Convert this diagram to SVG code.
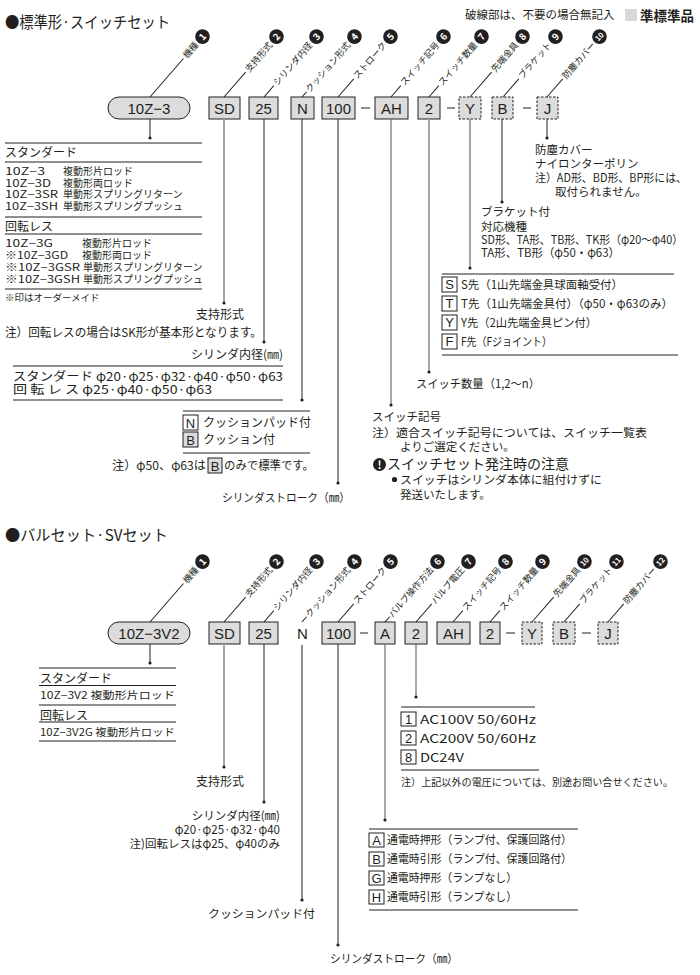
<svg xmlns="http://www.w3.org/2000/svg" width="700" height="975" viewBox="0 0 700 975">
<style>
text{font-family:"Noto Sans CJK JP","Noto Sans",sans-serif;fill:#231f20}
.ttl{font-size:15.5px}
.t{font-size:11.5px}
.h{font-size:12px}
.s{font-size:10px}
.box{fill:#dcdcdc;stroke:#231f20;stroke-width:1}
.dbox{fill:#dcdcdc;stroke:#231f20;stroke-width:1;stroke-dasharray:2.5 1.5}
.wbox{fill:#fff;stroke:#231f20;stroke-width:1}
.bt{font-family:"Liberation Sans","Noto Sans",sans-serif;font-size:15px;text-anchor:middle}
.kt{font-family:"Liberation Sans","Noto Sans",sans-serif;font-size:13px;text-anchor:middle}
.ln{stroke:#231f20;stroke-width:1;fill:none}
.gl{stroke:#a5a5a5;stroke-width:2;fill:none}
.ml{stroke:#6e6e6e;stroke-width:1.2;fill:none}
.rule{stroke:#231f20;stroke-width:1}
.dot{fill:#231f20}
.lbl{font-size:9px;text-anchor:end}
.cir{fill:#231f20}
.num{font-size:9.5px;font-weight:bold;fill:#fff;text-anchor:middle}
.num2{font-size:7.5px;font-weight:bold;fill:#fff;text-anchor:middle}
</style>

<!-- legend -->
<g id="legend">
<text x="465" y="19" style="font-size:11.5px">破線部は、不要の場合無記入</text>
<rect x="625" y="9" width="12" height="12" fill="#d9d9d9"/>
<text x="640" y="21" style="font-size:13.5px;font-weight:bold">準標準品</text>
</g>

<!-- ===== TOP SECTION ===== -->
<text id="title1" x="5" y="28" class="ttl" textLength="165" lengthAdjust="spacingAndGlyphs">●標準形·スイッチセット</text>

<g id="top-boxes">
<g id="t-model"><rect x="108" y="97" width="82" height="22" rx="11" class="box"/><text x="149" y="114" class="bt">10Z−3</text></g>
<g id="t-sd"><rect x="209" y="97" width="31" height="22" class="box"/><text x="224.5" y="114" class="bt">SD</text></g>
<g id="t-25"><rect x="249" y="97" width="29" height="22" class="box"/><text x="263.5" y="114" class="bt">25</text></g>
<g id="t-n"><rect x="291" y="97" width="23" height="22" class="box"/><text x="302.5" y="114" class="bt">N</text></g>
<g id="t-100"><rect x="322" y="97" width="33" height="22" class="box"/><text x="338.5" y="114" class="bt">100</text></g>
<g id="t-ah"><rect x="375" y="97" width="33" height="22" class="box"/><text x="391.5" y="114" class="bt">AH</text></g>
<g id="t-2"><rect x="418" y="97" width="22" height="22" class="box"/><text x="429" y="114" class="bt">2</text></g>
<g id="t-y"><rect x="459" y="97" width="22" height="22" class="dbox"/><text x="470" y="114" class="bt">Y</text></g>
<g id="t-b"><rect x="492" y="97" width="21" height="22" class="dbox"/><text x="502.5" y="114" class="bt">B</text></g>
<g id="t-j"><rect x="537" y="97" width="21" height="22" class="dbox"/><text x="547.5" y="114" class="bt">J</text></g>
</g>

<g id="top-labels">
<g id="tl1" transform="translate(150,97) rotate(-49)"><line x1="0" y1="0" x2="51" y2="0" class="ln"/><text x="71" y="3.2" class="lbl">機種</text><circle cx="80" cy="0" r="7.3" class="cir"/><text x="80" y="3.4" class="num">1</text></g>
<g id="tl2" transform="translate(224,97) rotate(-49)"><line x1="0" y1="0" x2="33" y2="0" class="ln"/><text x="71" y="3.2" class="lbl">支持形式</text><circle cx="80" cy="0" r="7.3" class="cir"/><text x="80" y="3.4" class="num">2</text></g>
<g id="tl3" transform="translate(264,97) rotate(-49)"><line x1="0" y1="0" x2="15" y2="0" class="ln"/><text x="71" y="3.2" class="lbl">シリンダ内径</text><circle cx="80" cy="0" r="7.3" class="cir"/><text x="80" y="3.4" class="num">3</text></g>
<g id="tl4" transform="translate(302,97) rotate(-49)"><line x1="0" y1="0" x2="7" y2="0" class="ln"/><text x="71" y="3.2" class="lbl">クッション形式</text><circle cx="80" cy="0" r="7.3" class="cir"/><text x="80" y="3.4" class="num">4</text></g>
<g id="tl5" transform="translate(338,97) rotate(-49)"><line x1="0" y1="0" x2="24" y2="0" class="ln"/><text x="71" y="3.2" class="lbl">ストローク</text><circle cx="80" cy="0" r="7.3" class="cir"/><text x="80" y="3.4" class="num">5</text></g>
<g id="tl6" transform="translate(391,97) rotate(-49)"><line x1="0" y1="0" x2="15" y2="0" class="ln"/><text x="71" y="3.2" class="lbl">スイッチ記号</text><circle cx="80" cy="0" r="7.3" class="cir"/><text x="80" y="3.4" class="num">6</text></g>
<g id="tl7" transform="translate(429,97) rotate(-49)"><line x1="0" y1="0" x2="15" y2="0" class="ln"/><text x="71" y="3.2" class="lbl">スイッチ数量</text><circle cx="80" cy="0" r="7.3" class="cir"/><text x="80" y="3.4" class="num">7</text></g>
<g id="tl8" transform="translate(470,97) rotate(-49)"><line x1="0" y1="0" x2="33" y2="0" class="ln"/><text x="71" y="3.2" class="lbl">先端金具</text><circle cx="80" cy="0" r="7.3" class="cir"/><text x="80" y="3.4" class="num">8</text></g>
<g id="tl9" transform="translate(503,97) rotate(-49)"><line x1="0" y1="0" x2="24" y2="0" class="ln"/><text x="71" y="3.2" class="lbl">ブラケット</text><circle cx="80" cy="0" r="7.3" class="cir"/><text x="80" y="3.4" class="num">9</text></g>
<g id="tl10" transform="translate(547,97) rotate(-49)"><line x1="0" y1="0" x2="24" y2="0" class="ln"/><text x="71" y="3.2" class="lbl">防塵カバー</text><circle cx="80" cy="0" r="7.3" class="cir"/><text x="80" y="2.7" class="num2">10</text></g>
</g>

<g id="top-connectors">
<line x1="361" y1="108" x2="370" y2="108" class="ln"/>
<line x1="447" y1="108" x2="455" y2="108" class="ln"/>
<line x1="523" y1="108" x2="531" y2="108" class="ln"/>
<line x1="150" y1="119" x2="150" y2="138" class="ln"/><circle cx="150" cy="138" r="1.6" class="dot"/>
<line x1="224" y1="119" x2="224" y2="303" class="gl"/><circle cx="224" cy="303" r="1.6" class="dot"/>
<line x1="264" y1="119" x2="264" y2="342" class="ln"/><circle cx="264" cy="342" r="1.6" class="dot"/>
<line x1="302" y1="119" x2="302" y2="400" class="ln"/><circle cx="302" cy="400" r="1.6" class="dot"/>
<line x1="338" y1="119" x2="338" y2="483" class="ln"/><circle cx="338" cy="483" r="1.6" class="dot"/>
<line x1="391" y1="119" x2="391" y2="405" class="ml"/><circle cx="391" cy="405" r="1.6" class="dot"/>
<line x1="429" y1="119" x2="429" y2="372" class="gl"/><circle cx="429" cy="372" r="1.6" class="dot"/>
<line x1="470" y1="119" x2="470" y2="268" class="gl"/><circle cx="470" cy="268" r="1.6" class="dot"/>
<line x1="502" y1="119" x2="502" y2="202" class="ln"/><circle cx="502" cy="202" r="1.6" class="dot"/>
<line x1="547" y1="119" x2="547" y2="138" class="ln"/><circle cx="547" cy="138" r="1.6" class="dot"/>
</g>

<g id="t-model-list">
<line x1="5" y1="143" x2="202" y2="143" class="rule"/>
<text x="5" y="157" class="h">スタンダード</text>
<line x1="5" y1="162" x2="202" y2="162" class="rule"/>
<text x="5" y="175" class="s" textLength="40" lengthAdjust="spacingAndGlyphs">10Z−3</text><text x="63" y="175" class="s">複動形片ロッド</text>
<text x="5" y="186.5" class="s" textLength="46" lengthAdjust="spacingAndGlyphs">10Z−3D</text><text x="63" y="186.5" class="s">複動形両ロッド</text>
<text x="5" y="198" class="s" textLength="53" lengthAdjust="spacingAndGlyphs">10Z−3SR</text><text x="63" y="198" class="s">単動形スプリングリターン</text>
<text x="5" y="209.5" class="s" textLength="53" lengthAdjust="spacingAndGlyphs">10Z−3SH</text><text x="63" y="209.5" class="s">単動形スプリングプッシュ</text>
<line x1="5" y1="217" x2="202" y2="217" class="rule"/>
<text x="5" y="231" class="h">回転レス</text>
<line x1="5" y1="234" x2="202" y2="234" class="rule"/>
<text x="5" y="247" class="s" textLength="48" lengthAdjust="spacingAndGlyphs">10Z−3G</text><text x="82" y="247" class="s">複動形片ロッド</text>
<text x="5" y="259" class="s" textLength="63" lengthAdjust="spacingAndGlyphs">※10Z−3GD</text><text x="82" y="259" class="s">複動形両ロッド</text>
<text x="5" y="271" class="s" textLength="75" lengthAdjust="spacingAndGlyphs">※10Z−3GSR</text><text x="83" y="271" class="s">単動形スプリングリターン</text>
<text x="5" y="283" class="s" textLength="75" lengthAdjust="spacingAndGlyphs">※10Z−3GSH</text><text x="83" y="283" class="s">単動形スプリングプッシュ</text>
<line x1="5" y1="289" x2="202" y2="289" class="rule"/>
<text x="5" y="301" style="font-size:9.5px">※印はオーダーメイド</text>
</g>

<g id="t-support">
<text x="220" y="319" class="h" text-anchor="middle">支持形式</text>
<text x="5" y="337" class="h" textLength="257" lengthAdjust="spacingAndGlyphs">注）回転レスの場合はSK形が基本形となります。</text>
</g>

<g id="t-bore">
<text x="283" y="359" class="h" text-anchor="end">シリンダ内径(㎜)</text>
<line x1="13" y1="366" x2="283" y2="366" class="rule"/>
<text x="13" y="381" class="h" textLength="270" lengthAdjust="spacingAndGlyphs">スタンダード φ20·φ25·φ32·φ40·φ50·φ63</text>
<text x="13" y="394" class="h" textLength="199" lengthAdjust="spacingAndGlyphs">回 転 レ ス φ25·φ40·φ50·φ63</text>
<line x1="13" y1="400" x2="283" y2="400" class="rule"/>
</g>

<g id="t-cushion">
<line x1="183" y1="411" x2="310" y2="411" class="rule"/>
<rect x="183" y="415" width="15" height="15" class="wbox"/><text x="190.5" y="427.5" class="kt">N</text>
<text x="203" y="427" class="h">クッションパッド付</text>
<rect x="183" y="432" width="15" height="15" class="box"/><text x="190.5" y="444.5" class="kt">B</text>
<text x="203" y="444" class="h">クッション付</text>
<line x1="183" y1="453" x2="310" y2="453" class="rule"/>
<text x="112" y="470" class="h" textLength="94" lengthAdjust="spacingAndGlyphs">注）φ50、φ63は</text>
<rect x="208" y="458" width="14" height="15" class="box"/><text x="215" y="470.5" class="kt">B</text>
<text x="224" y="470" class="h" textLength="90" lengthAdjust="spacingAndGlyphs">のみで標準です。</text>
</g>

<g id="t-stroke">
<text x="222" y="502" class="t" textLength="128" lengthAdjust="spacingAndGlyphs">シリンダストローク（㎜）</text>
</g>

<g id="t-cover">
<text x="535" y="154" class="t">防塵カバー</text>
<text x="535" y="168" class="t">ナイロンターポリン</text>
<text x="535" y="182" class="t" textLength="152" lengthAdjust="spacingAndGlyphs">注）AD形、BD形、BP形には、</text>
<text x="555" y="196" class="t">取付られません。</text>
</g>

<g id="t-bracket">
<text x="481" y="216" class="t">ブラケット付</text>
<text x="481" y="231" class="t">対応機種</text>
<text x="481" y="244" class="t" textLength="202" lengthAdjust="spacingAndGlyphs">SD形、TA形、TB形、TK形（φ20～φ40）</text>
<text x="481" y="257" class="t" textLength="139" lengthAdjust="spacingAndGlyphs">TA形、TB形（φ50・φ63）</text>
</g>

<g id="t-rodend">
<line x1="442" y1="274" x2="674" y2="274" class="rule"/>
<rect x="442" y="277" width="15" height="15" class="wbox"/><text x="449.5" y="289" class="kt">S</text>
<text x="461" y="288.5" class="t" textLength="162" lengthAdjust="spacingAndGlyphs">S先（1山先端金具球面軸受付）</text>
<rect x="442" y="296" width="15" height="15" class="wbox"/><text x="449.5" y="308" class="kt">T</text>
<text x="461" y="307.5" class="t" textLength="212" lengthAdjust="spacingAndGlyphs">T先（1山先端金具付）（φ50・φ63のみ）</text>
<rect x="442" y="315" width="15" height="15" class="wbox"/><text x="449.5" y="327" class="kt">Y</text>
<text x="461" y="326.5" class="t" textLength="136" lengthAdjust="spacingAndGlyphs">Y先（2山先端金具ピン付）</text>
<rect x="442" y="334" width="15" height="15" class="wbox"/><text x="449.5" y="346" class="kt">F</text>
<text x="461" y="345.5" class="t" textLength="91" lengthAdjust="spacingAndGlyphs">F先（Fジョイント）</text>
<line x1="442" y1="355" x2="678" y2="355" class="rule"/>
</g>

<g id="t-swcount">
<text x="416" y="388" class="t" textLength="124" lengthAdjust="spacingAndGlyphs">スイッチ数量（1,2～n）</text>
</g>

<g id="t-switch">
<text x="372" y="421" class="t">スイッチ記号</text>
<text x="372" y="437" class="t" textLength="275" lengthAdjust="spacingAndGlyphs">注）適合スイッチ記号については、スイッチ一覧表</text>
<text x="400" y="451" class="t">よりご選定ください。</text>
<circle cx="379.5" cy="464.5" r="6.5" class="cir"/><text x="379.5" y="469" style="font-size:11px;font-weight:bold;fill:#fff;text-anchor:middle">!</text>
<text x="387" y="469" style="font-size:14px">スイッチセット発注時の注意</text>
<circle cx="394.5" cy="479.5" r="2.6" class="dot"/>
<text x="400" y="483.5" class="t" textLength="202" lengthAdjust="spacingAndGlyphs">スイッチはシリンダ本体に組付けずに</text>
<text x="400" y="498.5" class="t">発送いたします。</text>
</g>

<!-- ===== BOTTOM SECTION ===== -->
<text id="title2" x="5" y="541" class="ttl" textLength="163" lengthAdjust="spacingAndGlyphs">●バルセット·SVセット</text>

<g id="bottom-boxes">
<g id="b-model"><rect x="108" y="622" width="82" height="22" rx="11" class="box"/><text x="149" y="639" class="bt">10Z−3V2</text></g>
<g id="b-sd"><rect x="209" y="622" width="31" height="22" class="box"/><text x="224.5" y="639" class="bt">SD</text></g>
<g id="b-25"><rect x="249" y="622" width="29" height="22" class="box"/><text x="263.5" y="639" class="bt">25</text></g>
<g id="b-n"><text x="302.5" y="639" class="bt">N</text></g>
<g id="b-100"><rect x="322" y="622" width="33" height="22" class="box"/><text x="338.5" y="639" class="bt">100</text></g>
<g id="b-a"><rect x="375" y="622" width="20" height="22" class="box"/><text x="385" y="639" class="bt">A</text></g>
<g id="b-v2"><rect x="405" y="622" width="22" height="22" class="box"/><text x="416" y="639" class="bt">2</text></g>
<g id="b-ah"><rect x="437" y="622" width="33" height="22" class="box"/><text x="453.5" y="639" class="bt">AH</text></g>
<g id="b-2"><rect x="480" y="622" width="20" height="22" class="box"/><text x="490" y="639" class="bt">2</text></g>
<g id="b-y"><rect x="522" y="622" width="20" height="22" class="dbox"/><text x="532" y="639" class="bt">Y</text></g>
<g id="b-b"><rect x="553" y="622" width="22" height="22" class="dbox"/><text x="564" y="639" class="bt">B</text></g>
<g id="b-j"><rect x="598" y="622" width="20" height="22" class="dbox"/><text x="608" y="639" class="bt">J</text></g>
</g>

<g id="bottom-labels">
<g id="bl1" transform="translate(150,622) rotate(-49)"><line x1="0" y1="0" x2="51" y2="0" class="ln"/><text x="71" y="3.2" class="lbl">機種</text><circle cx="80" cy="0" r="7.3" class="cir"/><text x="80" y="3.4" class="num">1</text></g>
<g id="bl2" transform="translate(224,622) rotate(-49)"><line x1="0" y1="0" x2="33" y2="0" class="ln"/><text x="71" y="3.2" class="lbl">支持形式</text><circle cx="80" cy="0" r="7.3" class="cir"/><text x="80" y="3.4" class="num">2</text></g>
<g id="bl3" transform="translate(264,622) rotate(-49)"><line x1="0" y1="0" x2="15" y2="0" class="ln"/><text x="71" y="3.2" class="lbl">シリンダ内径</text><circle cx="80" cy="0" r="7.3" class="cir"/><text x="80" y="3.4" class="num">3</text></g>
<g id="bl4" transform="translate(302,622) rotate(-49)"><line x1="0" y1="0" x2="7" y2="0" class="ln"/><text x="71" y="3.2" class="lbl">クッション形式</text><circle cx="80" cy="0" r="7.3" class="cir"/><text x="80" y="3.4" class="num">4</text></g>
<g id="bl5" transform="translate(338,622) rotate(-49)"><line x1="0" y1="0" x2="24" y2="0" class="ln"/><text x="71" y="3.2" class="lbl">ストローク</text><circle cx="80" cy="0" r="7.3" class="cir"/><text x="80" y="3.4" class="num">5</text></g>
<g id="bl6" transform="translate(385,622) rotate(-49)"><line x1="0" y1="0" x2="7" y2="0" class="ln"/><text x="71" y="3.2" class="lbl">バルブ操作方法</text><circle cx="80" cy="0" r="7.3" class="cir"/><text x="80" y="3.4" class="num">6</text></g>
<g id="bl7" transform="translate(416,622) rotate(-49)"><line x1="0" y1="0" x2="24" y2="0" class="ln"/><text x="71" y="3.2" class="lbl">バルブ電圧</text><circle cx="80" cy="0" r="7.3" class="cir"/><text x="80" y="3.4" class="num">7</text></g>
<g id="bl8" transform="translate(453,622) rotate(-49)"><line x1="0" y1="0" x2="15" y2="0" class="ln"/><text x="71" y="3.2" class="lbl">スイッチ記号</text><circle cx="80" cy="0" r="7.3" class="cir"/><text x="80" y="3.4" class="num">8</text></g>
<g id="bl9" transform="translate(490,622) rotate(-49)"><line x1="0" y1="0" x2="15" y2="0" class="ln"/><text x="71" y="3.2" class="lbl">スイッチ数量</text><circle cx="80" cy="0" r="7.3" class="cir"/><text x="80" y="3.4" class="num">9</text></g>
<g id="bl10" transform="translate(532,622) rotate(-49)"><line x1="0" y1="0" x2="33" y2="0" class="ln"/><text x="71" y="3.2" class="lbl">先端金具</text><circle cx="80" cy="0" r="7.3" class="cir"/><text x="80" y="2.7" class="num2">10</text></g>
<g id="bl11" transform="translate(564,622) rotate(-49)"><line x1="0" y1="0" x2="24" y2="0" class="ln"/><text x="71" y="3.2" class="lbl">ブラケット</text><circle cx="80" cy="0" r="7.3" class="cir"/><text x="80" y="2.7" class="num2">11</text></g>
<g id="bl12" transform="translate(608,622) rotate(-49)"><line x1="0" y1="0" x2="24" y2="0" class="ln"/><text x="71" y="3.2" class="lbl">防塵カバー</text><circle cx="80" cy="0" r="7.3" class="cir"/><text x="80" y="2.7" class="num2">12</text></g>
</g>

<g id="bottom-connectors">
<line x1="360" y1="633" x2="368" y2="633" class="ln"/>
<line x1="506" y1="633" x2="515" y2="633" class="ln"/>
<line x1="582" y1="633" x2="591" y2="633" class="ln"/>
<line x1="150" y1="644" x2="150" y2="663" class="ln"/><circle cx="150" cy="663" r="1.6" class="dot"/>
<line x1="224" y1="644" x2="224" y2="767" class="gl"/><circle cx="224" cy="767" r="1.6" class="dot"/>
<line x1="264" y1="644" x2="264" y2="802" class="ln"/><circle cx="264" cy="802" r="1.6" class="dot"/>
<line x1="302" y1="645" x2="302" y2="900" class="ln"/><circle cx="302" cy="900" r="1.6" class="dot"/>
<line x1="338" y1="644" x2="338" y2="945" class="ln"/><circle cx="338" cy="945" r="1.6" class="dot"/>
<line x1="385" y1="644" x2="385" y2="820" class="ml"/><circle cx="385" cy="820" r="1.6" class="dot"/>
<line x1="416" y1="644" x2="416" y2="697" class="ml"/><circle cx="416" cy="697" r="1.6" class="dot"/>
</g>

<g id="b-model-list">
<line x1="39" y1="668" x2="176" y2="668" class="rule"/>
<text x="40" y="683" class="h">スタンダード</text>
<line x1="39" y1="685.5" x2="176" y2="685.5" class="rule"/>
<text x="40" y="699" class="s" textLength="135" lengthAdjust="spacingAndGlyphs">10Z−3V2 複動形片ロッド</text>
<line x1="39" y1="705" x2="176" y2="705" class="rule"/>
<text x="40" y="719.5" class="h">回転レス</text>
<line x1="39" y1="722" x2="176" y2="722" class="rule"/>
<text x="40" y="736" class="s" textLength="135" lengthAdjust="spacingAndGlyphs">10Z−3V2G 複動形片ロッド</text>
<line x1="39" y1="741" x2="176" y2="741" class="rule"/>
</g>

<g id="b-support"><text x="220" y="786" class="h" text-anchor="middle">支持形式</text></g>

<g id="b-bore">
<text x="280" y="820" class="t" text-anchor="end">シリンダ内径(㎜)</text>
<text x="280" y="834" class="t" text-anchor="end">φ20·φ25·φ32·φ40</text>
<text x="280" y="848" class="t" text-anchor="end">注)回転レスはφ25、φ40のみ</text>
</g>

<g id="b-cushion"><text x="208" y="918" class="t" textLength="107" lengthAdjust="spacingAndGlyphs">クッションパッド付</text></g>

<g id="b-stroke"><text x="330" y="963" class="t" textLength="128" lengthAdjust="spacingAndGlyphs">シリンダストローク（㎜）</text></g>

<g id="b-voltage">
<line x1="401" y1="707" x2="535" y2="707" class="rule"/>
<rect x="401" y="712" width="15" height="14" class="wbox"/><text x="408.5" y="723.5" class="kt">1</text>
<text x="420" y="723.5" class="t" textLength="116" lengthAdjust="spacingAndGlyphs">AC100V 50/60Hz</text>
<rect x="401" y="731" width="15" height="14" class="wbox"/><text x="408.5" y="742.5" class="kt">2</text>
<text x="420" y="742.5" class="t" textLength="116" lengthAdjust="spacingAndGlyphs">AC200V 50/60Hz</text>
<rect x="401" y="750" width="15" height="14" class="wbox"/><text x="408.5" y="761.5" class="kt">8</text>
<text x="420" y="761.5" class="t" textLength="44" lengthAdjust="spacingAndGlyphs">DC24V</text>
<line x1="401" y1="770" x2="539" y2="770" class="rule"/>
<text x="401" y="786" style="font-size:10.2px" textLength="272" lengthAdjust="spacingAndGlyphs">注）上記以外の電圧については、別途お問い合せください。</text>
</g>

<g id="b-valveop">
<line x1="369" y1="829" x2="578" y2="829" class="rule"/>
<rect x="369" y="833" width="15" height="14" class="wbox"/><text x="376.5" y="844.5" class="kt">A</text>
<text x="387" y="844" class="t" textLength="185" lengthAdjust="spacingAndGlyphs">通電時押形（ランプ付、保護回路付）</text>
<rect x="369" y="852" width="15" height="14" class="wbox"/><text x="376.5" y="863.5" class="kt">B</text>
<text x="387" y="863" class="t" textLength="185" lengthAdjust="spacingAndGlyphs">通電時引形（ランプ付、保護回路付）</text>
<rect x="369" y="871" width="15" height="14" class="wbox"/><text x="376.5" y="882.5" class="kt">G</text>
<text x="387" y="882" class="t" textLength="130" lengthAdjust="spacingAndGlyphs">通電時押形（ランプなし）</text>
<rect x="369" y="890" width="15" height="14" class="wbox"/><text x="376.5" y="901.5" class="kt">H</text>
<text x="387" y="901" class="t" textLength="130" lengthAdjust="spacingAndGlyphs">通電時引形（ランプなし）</text>
<line x1="369" y1="910" x2="578" y2="910" class="rule"/>
</g>
</svg>
